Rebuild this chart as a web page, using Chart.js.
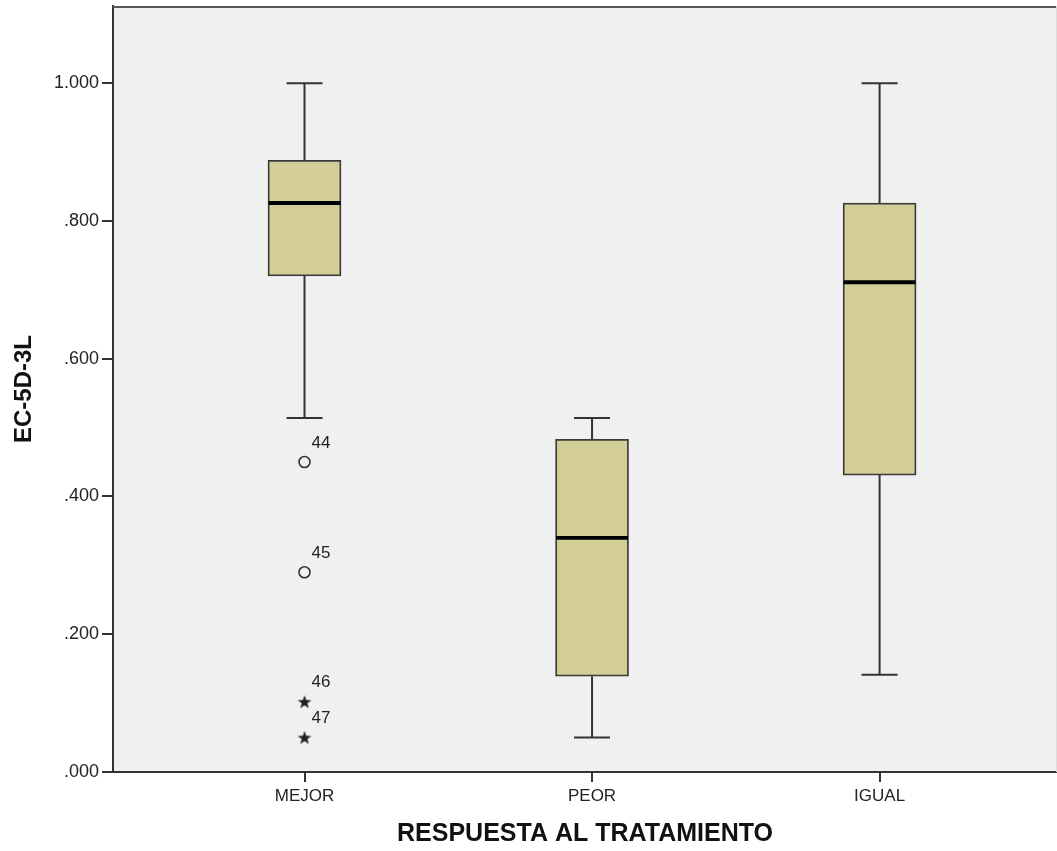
<!DOCTYPE html>
<html>
<head>
<meta charset="utf-8">
<script src="https://cdn.jsdelivr.net/npm/chart.js@4/dist/chart.umd.min.js"></script>
<style>
  html, body { margin: 0; padding: 0; background: #ffffff; }
  #wrap { width: 1057px; height: 851px; position: relative; }
</style>
</head>
<body>
<div id="wrap"><canvas id="c"></canvas></div>
<script>
// ---- Data ----
const categories = ['MEJOR', 'PEOR', 'IGUAL'];
const whiskerLow  = [0.514, 0.050, 0.141];
const q1Values    = [0.720, 0.139, 0.431];
const medians     = [0.826, 0.340, 0.711];
const q3Values    = [0.888, 0.483, 0.826];
const whiskerHigh = [1.000, 0.514, 1.000];

const circleOutlierCat  = [1, 1];
const circleOutlierVals = [0.450, 0.290];
const circleOutlierIds  = ['44', '45'];
const starOutlierCat    = [1, 1];
const starOutlierVals   = [0.102, 0.050];
const starOutlierIds    = ['46', '47'];

const yTickValues = [0, 0.2, 0.4, 0.6, 0.8, 1.0];

const xTitle = 'RESPUESTA AL TRATAMIENTO';
const yTitle = 'EC-5D-3L';

// ---- Styling constants ----
const FONT = "'Liberation Sans', Arial, Helvetica, sans-serif";
const BOX_FILL = '#D3CE98';
const LINE_COL = '#333333';
const PLOT_BG = '#F0F0F0';
const CAP_HALF = 0.0626;   // in category units
const BOX_HALF = 0.125;

// whisker segments built from arrays (null breaks between segments)
const whiskerData = [];
categories.forEach((c, i) => {
  const x = i + 1;
  whiskerData.push({x: x, y: q3Values[i]}, {x: x, y: whiskerHigh[i]}, {x: x, y: null});
  whiskerData.push({x: x - CAP_HALF, y: whiskerHigh[i]}, {x: x + CAP_HALF, y: whiskerHigh[i]}, {x: x, y: null});
  whiskerData.push({x: x, y: q1Values[i]}, {x: x, y: whiskerLow[i]}, {x: x, y: null});
  whiskerData.push({x: x - CAP_HALF, y: whiskerLow[i]}, {x: x + CAP_HALF, y: whiskerLow[i]}, {x: x, y: null});
});
const medianData = [];
categories.forEach((c, i) => {
  const x = i + 1;
  medianData.push({x: x - BOX_HALF, y: medians[i]}, {x: x + BOX_HALF, y: medians[i]}, {x: x, y: null});
});
const boxData = categories.map((c, i) => ({x: i + 1, y: [q1Values[i], q3Values[i]]}));
const circleData = circleOutlierVals.map((v, i) => ({x: circleOutlierCat[i], y: v}));
const starData = starOutlierVals.map((v, i) => ({x: starOutlierCat[i], y: v}));

// filled five-point star as point style
function makeStar() {
  const cv = document.createElement('canvas');
  cv.width = 16; cv.height = 16;
  const g = cv.getContext('2d');
  g.fillStyle = '#222';
  g.beginPath();
  for (let k = 0; k < 10; k++) {
    const r = k % 2 === 0 ? 7.2 : 3.0;
    const a = -Math.PI / 2 + k * Math.PI / 5;
    const px = 8 + r * Math.cos(a), py = 8.6 + r * Math.sin(a);
    if (k === 0) g.moveTo(px, py); else g.lineTo(px, py);
  }
  g.closePath();
  g.fill();
  return cv;
}
const starImg = makeStar();

const plotFrame = {
  id: 'plotFrame',
  beforeDraw(chart) {
    const {ctx, chartArea: a} = chart;
    ctx.save();
    ctx.fillStyle = PLOT_BG;
    ctx.fillRect(a.left, a.top, a.right - a.left, a.bottom - a.top);
    ctx.restore();
  },
  afterDraw(chart) {
    const {ctx, chartArea: a} = chart;
    ctx.save();
    ctx.strokeStyle = '#555';
    ctx.lineWidth = 2;
    ctx.beginPath();
    ctx.moveTo(a.left, a.top + 1);
    ctx.lineTo(a.right, a.top + 1);
    ctx.stroke();
    ctx.strokeStyle = '#dddddd';
    ctx.lineWidth = 1;
    ctx.beginPath();
    ctx.moveTo(a.right - 0.5, a.top);
    ctx.lineTo(a.right - 0.5, a.bottom);
    ctx.stroke();
    ctx.restore();
  }
};

const outlierLabels = {
  id: 'outlierLabels',
  afterDatasetsDraw(chart) {
    const {ctx} = chart;
    ctx.save();
    ctx.font = '17px ' + FONT;
    ctx.fillStyle = '#222';
    ctx.textAlign = 'left';
    ctx.textBaseline = 'middle';
    [[3, circleOutlierIds], [4, starOutlierIds]].forEach(([di, ids]) => {
      const meta = chart.getDatasetMeta(di);
      meta.data.forEach((pt, j) => {
        ctx.fillText(ids[j], pt.x + 7, pt.y - 19);
      });
    });
    ctx.restore();
  }
};

new Chart(document.getElementById('c'), {
  type: 'bar',
  data: {
    datasets: [
      {
        type: 'bar',
        data: boxData,
        backgroundColor: BOX_FILL,
        borderColor: '#3a3a3a',
        borderWidth: 1.8,
        borderSkipped: false,
        barThickness: 73,
        order: 3
      },
      {
        type: 'line',
        data: whiskerData,
        borderColor: LINE_COL,
        borderWidth: 2,
        pointRadius: 0,
        spanGaps: false,
        fill: false,
        order: 2
      },
      {
        type: 'line',
        data: medianData,
        borderColor: '#000000',
        borderWidth: 3.8,
        pointRadius: 0,
        spanGaps: false,
        fill: false,
        order: 1
      },
      {
        type: 'scatter',
        data: circleData,
        pointStyle: 'circle',
        pointRadius: 5.5,
        borderColor: LINE_COL,
        borderWidth: 1.6,
        backgroundColor: 'rgba(0,0,0,0)',
        order: 0
      },
      {
        type: 'scatter',
        data: starData,
        pointStyle: starImg,
        pointRadius: 8,
        order: 0
      }
    ]
  },
  options: {
    responsive: true,
    maintainAspectRatio: false,
    animation: false,
    layout: { autoPadding: false, padding: { top: 6, right: 0, left: 0, bottom: 0 } },
    plugins: { legend: { display: false }, tooltip: { enabled: false } },
    scales: {
      x: {
        type: 'linear',
        min: 0.334,
        max: 3.617,
        offset: false,
        afterBuildTicks(scale) { scale.ticks = categories.map((c, i) => ({value: i + 1})); },
        afterFit(scale) { scale.height = 79; scale.paddingLeft = 0; scale.paddingRight = 0; },
        ticks: {
          callback: (v) => categories[v - 1],
          color: '#222',
          font: { family: FONT, size: 17 },
          padding: 4,
          maxRotation: 0,
          autoSkip: false
        },
        grid: { offset: false, drawOnChartArea: false, tickLength: 10, color: LINE_COL, lineWidth: 2 },
        border: { display: true, color: LINE_COL, width: 2 },
        title: {
          display: true,
          text: xTitle,
          color: '#111',
          font: { family: FONT, size: 25, weight: 'bold' },
          padding: { top: 0, bottom: 2 }
        }
      },
      y: {
        type: 'linear',
        min: 0,
        max: 1.112,
        afterBuildTicks(scale) { scale.ticks = yTickValues.map(v => ({value: v})); },
        afterFit(scale) { scale.width = 113; scale.paddingTop = 0; scale.paddingBottom = 0; },
        ticks: {
          callback: (v) => (v >= 1 ? v.toFixed(3) : v.toFixed(3).replace(/^0/, '')),
          color: '#222',
          font: { family: FONT, size: 18 },
          padding: 3
        },
        grid: { drawOnChartArea: false, tickLength: 11, color: LINE_COL, lineWidth: 2 },
        border: { display: true, color: LINE_COL, width: 2 },
        title: {
          display: true,
          text: yTitle,
          color: '#111',
          font: { family: FONT, size: 24, weight: 'bold' },
          padding: { top: 10, bottom: 0 }
        }
      }
    }
  },
  plugins: [plotFrame, outlierLabels]
});
</script>
</body>
</html>
